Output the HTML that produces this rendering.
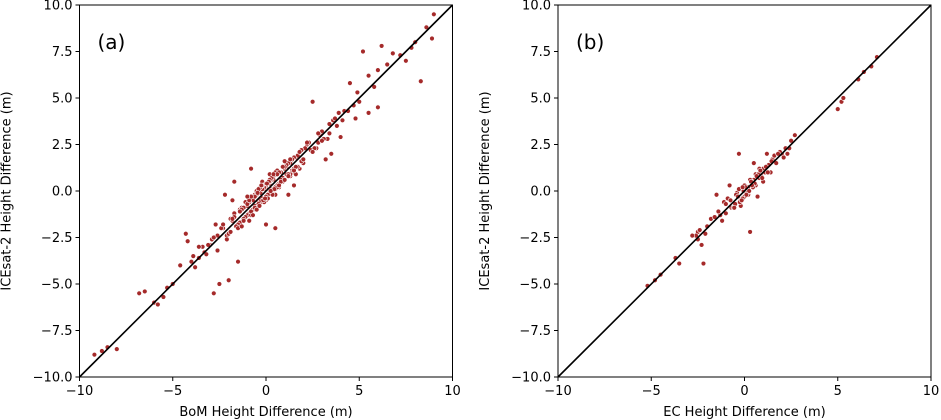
<!DOCTYPE html>
<html><head><meta charset="utf-8"><style>
html,body{margin:0;padding:0;background:#fff;}
svg{display:block;font-family:"DejaVu Sans","Liberation Sans",sans-serif;}
</style></head><body>
<svg id="fig" width="941" height="420" viewBox="0 0 941 420"></svg>
<script>
const xTicks=[-10,-5,0,5,10];
const yTicks=[-10,-7.5,-5,-2.5,0,2.5,5,7.5,10];
const yTickLabels=["−10.0","−7.5","−5.0","−2.5","0.0","2.5","5.0","7.5","10.0"];
const xTickLabels=["−10","−5","0","5","10"];
const bomX=[-9.2,-8.8,-8.5,-8.0,-6.8,-6.5,-6.0,-5.8,-5.0,-4.6,-4.3,-4.2,-3.8,-3.6,-3.3,-3.0,-2.8,-2.5,-2.0,-1.5,-1.8,-2.2,-0.8,-1.7,0.0,0.5,1.2,1.5,2.5,3.2,3.5,4.0,5.2,6.2,8.3,7.5,8.0,9.0,8.9,8.6,6.8,6.0,5.5,5.0,4.8,5.5,6.0,4.5,4.2,3.8,3.0,2.7,7.2,7.8,6.5,5.8,4.9,3.6,3.3,2.9,2.2,2.0,1.8,-3.9,-3.4,-2.9,-2.6,-2.3,-2.7,-3.1,-4.0,-5.3,-5.5,-1.9,-1.6,-1.4,-1.2,-1.0,-0.9,-0.7,-0.6,-0.5,-0.4,-0.3,-0.2,-0.1,0.1,0.2,0.3,0.4,0.5,0.6,0.7,0.8,0.9,1.0,1.1,1.3,1.4,1.6,-1.3,-1.1,-0.9,-0.8,-0.6,-0.5,-0.3,-0.2,0.0,0.1,0.2,0.3,0.4,0.6,0.7,0.8,1.0,1.2,1.5,1.7,2.1,2.4,-2.1,-1.8,-1.5,-1.2,-1.0,-0.7,-0.4,-0.1,0.1,0.3,0.5,0.8,1.1,1.4,1.9,2.3,2.6,-0.6,-0.4,-0.2,0.0,0.2,0.4,-0.3,0.0,0.3,-1.1,-0.8,0.6,0.9,1.3,-2.4,-2.0,-1.7,3.1,3.4,3.9,4.4,4.7,-0.9,1.6,0.2,-0.5,0.7,-1.4,1.8,-2.6,2.8,-0.2,0.5,
-1.9,-1.7,-1.5,-1.3,-1.1,-0.9,-0.7,-0.5,-0.3,-0.1,0.1,0.3,0.5,0.7,0.9,1.1,1.3,1.5,1.7,1.9,-1.8,-1.6,-1.4,-1.2,-1.0,-0.8,-0.6,-0.4,-0.2,0.0,0.2,0.4,0.6,0.8,1.0,1.2,1.4,1.6,1.8,2.0,-1.2,-0.9,-0.6,-0.3,0.0,0.3,0.6,0.9,1.2,-0.8,-0.5,-0.2,0.1,0.4,0.7,1.0,-2.3,-2.1,2.2,2.5,2.8,3.0,-0.7,-0.4,-0.1,0.2,0.5,-1.5,-1.0,0.0,1.0,1.5,-0.45,-0.15,0.15,0.45,-0.35,0.05,0.35,-2.8,-3.2,-3.6,3.4,3.7,4.1,-1.3,1.3,-0.05,0.25,-0.25];
const bomY=[-8.8,-8.6,-8.4,-8.5,-5.5,-5.4,-6.0,-6.1,-5.0,-4.0,-2.3,-2.7,-4.1,-3.6,-3.3,-2.9,-5.5,-5.0,-4.8,-3.8,-0.5,-0.2,1.2,0.5,-1.8,-2.0,-0.2,0.3,4.8,1.7,2.0,2.9,7.5,7.8,5.9,7.0,8.0,9.5,8.2,8.8,7.4,6.5,6.2,4.8,3.9,4.2,4.5,5.8,4.3,3.5,3.2,2.3,7.3,7.7,6.8,5.6,5.3,3.8,2.8,3.0,2.5,1.5,2.1,-3.5,-3.0,-2.6,-2.4,-2.0,-1.8,-2.9,-3.8,-5.2,-5.7,-1.5,-1.9,-1.0,-1.5,-0.8,-1.2,-0.4,-0.9,-0.2,-0.6,-0.1,-0.4,0.2,-0.2,0.4,0.0,0.6,0.2,0.9,0.4,1.0,0.7,1.2,0.9,1.5,1.1,1.8,-0.9,-1.4,-0.5,-1.1,-0.8,-0.1,-0.6,0.3,0.2,-0.3,0.5,0.1,0.8,0.3,1.0,0.5,0.6,1.5,1.2,1.9,2.3,2.2,-2.4,-1.6,-1.8,-0.9,-1.3,-0.5,-0.7,0.1,-0.2,0.7,0.2,0.6,1.3,1.0,1.6,2.6,2.3,-0.2,-0.8,0.1,0.3,-0.1,0.6,-0.5,-0.4,0.0,-0.6,-1.3,1.1,0.5,0.8,-2.0,-2.3,-1.2,2.8,3.6,4.2,4.3,4.6,-1.6,0.9,0.9,0.0,0.2,-1.7,1.2,-3.2,2.6,0.5,1.0,
-2.2,-1.4,-1.8,-1.0,-1.4,-0.6,-1.0,-0.2,-0.6,0.2,-0.2,0.6,0.1,1.0,0.5,1.4,0.9,1.8,1.3,2.2,-1.5,-1.9,-1.1,-1.5,-0.7,-1.1,-0.3,-0.7,0.1,-0.3,0.5,0.1,0.9,0.5,1.3,0.9,1.7,1.3,2.1,1.7,-1.6,-0.5,-0.9,0.2,-0.5,0.7,0.2,1.3,0.8,-0.3,-1.0,0.3,-0.4,0.9,0.3,0.6,-1.8,-2.6,2.6,2.1,3.1,2.7,-1.3,0.1,-0.6,0.6,-0.2,-2.0,-0.3,0.4,1.6,1.1,-0.1,-0.5,0.5,0.1,-0.8,0.4,-0.2,-2.5,-3.4,-3.0,3.1,3.9,3.8,-1.9,1.7,-0.4,0.0,0.3];
const ecX=[-5.2,-4.8,-4.5,-3.7,-3.5,-2.5,-2.5,-2.3,-2.2,-2.6,-1.5,-1.3,-1.0,-0.7,-0.3,-0.2,0.0,0.2,0.3,0.5,0.8,1.0,1.2,1.5,2.0,2.2,2.5,2.7,5.0,5.2,5.3,6.1,6.4,6.8,7.1,-0.8,0.5,0.7,-0.5,-0.4,-0.1,0.1,0.4,0.6,0.9,1.1,1.3,1.7,1.9,-0.6,-0.9,-1.2,-1.8,-2.0,-0.3,0.2,0.3,0.8,1.4,2.3,-1.6,-0.2,0.0,1.6,2.1,-2.8,-1.1,0.6,1.0,
-0.45,-0.25,-0.05,0.15,0.35,0.55,0.75,0.95,1.15,-0.75,-0.55,-0.35,-0.15,0.05,0.25,0.45,0.65,0.85,1.25,1.45,-1.4,-1.0,-0.1,0.1,0.4,-2.4,-2.1,1.8,2.4];
const ecY=[-5.1,-4.8,-4.5,-3.6,-3.9,-2.2,-2.6,-2.9,-3.9,-2.4,-0.2,-1.3,-1.2,-0.9,2.0,-0.5,-0.3,0.2,-2.2,0.6,0.7,1.2,2.0,1.7,2.0,2.3,2.7,3.0,4.4,4.8,5.0,6.0,6.4,6.7,7.2,0.3,1.5,-0.3,-0.7,-0.1,-0.4,0.1,0.5,0.3,0.8,1.0,1.4,1.5,2.1,-0.9,-0.4,-1.6,-1.5,-1.9,0.1,-0.2,0.6,1.2,1.0,2.0,-1.4,-0.8,0.3,1.9,1.8,-2.4,-0.6,0.9,0.5,
-0.2,-0.6,0.0,-0.1,0.5,0.4,0.9,0.7,1.3,-0.5,-0.9,-0.3,-0.5,0.2,0.0,0.2,0.8,1.1,1.0,1.6,-1.1,-0.7,0.2,-0.2,0.3,-2.1,-2.3,2.0,2.3];

const NS="http://www.w3.org/2000/svg";
const svg=document.getElementById('fig');
function mk(t,a,p){const e=document.createElementNS(NS,t);for(const k in a)e.setAttribute(k,a[k]);(p||svg).appendChild(e);return e;}
function panel(x0,xs,ys,xlabel,tag,key){
  const L=x0,R=x0+373,T=5,B=377;
  const sx=v=>L+(v+10)/20*(R-L), sy=v=>B-(v+10)/20*(B-T);
  const g=mk('g',{});
  
  
  xs.forEach((v,i)=>{const c=mk('circle',{cx:sx(v),cy:sy(ys[i]),r:2.4,fill:'#a52a2a',stroke:'#fff','stroke-width':0.6},g);
    
    });
  const ln=mk('line',{x1:sx(-10),y1:sy(-10),x2:sx(10),y2:sy(10),stroke:'#000','stroke-width':1.6},g);
  
  
  const fr=mk('rect',{x:L,y:T,width:R-L,height:B-T,fill:'none',stroke:'#000','stroke-width':1},g);
  
  
  xTicks.forEach((v,i)=>{mk('line',{x1:sx(v),x2:sx(v),y1:B,y2:B+4,stroke:'#000'},g);
    const t=mk('text',{x:sx(v),y:B+18,'text-anchor':'middle','font-size':13},g);t.textContent=xTickLabels[i];
    
    });
  yTicks.forEach((v,i)=>{mk('line',{x1:L-4,x2:L,y1:sy(v),y2:sy(v),stroke:'#000'},g);
    const t=mk('text',{x:L-7,y:sy(v)+4.5,'text-anchor':'end','font-size':13},g);t.textContent=yTickLabels[i];
    
    });
  const xl=mk('text',{x:(L+R)/2,y:416,'text-anchor':'middle','font-size':13},g);xl.textContent=xlabel;
  
  
  const yl=mk('text',{x:0,y:0,'text-anchor':'middle','font-size':13,transform:`translate(${L-69},${(T+B)/2}) rotate(-90)`},g);yl.textContent='ICEsat-2 Height Difference (m)';
  
  
  const pl=mk('text',{x:L+18,y:49,'font-size':20},g);pl.textContent=tag;
  
  
}
panel(79.5,bomX,bomY,'BoM Height Difference (m)','(a)','a');
panel(558,ecX,ecY,'EC Height Difference (m)','(b)','b');
</script>
</body></html>
